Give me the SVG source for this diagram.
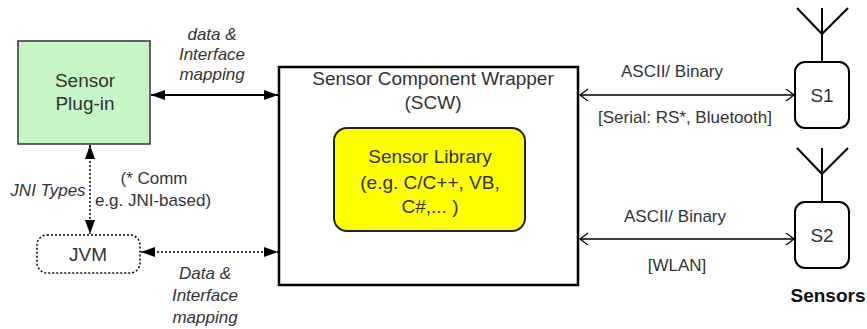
<svg xmlns="http://www.w3.org/2000/svg" width="867" height="329" viewBox="0 0 867 329">
<style>
text{font-family:"Liberation Sans",Arial,sans-serif;fill:#333;text-anchor:middle}
.t19{font-size:19px}
.t17{font-size:17px}
.it{font-style:italic}
.b{font-weight:bold;fill:#111}
.solid{stroke:#000;stroke-width:2;fill:none}
.dot{stroke:#000;stroke-width:1.5;stroke-dasharray:2 2;fill:none}
.thin{stroke:#000;stroke-width:1.3;fill:none}
</style>
<defs>
<marker id="fa" markerUnits="userSpaceOnUse" markerWidth="16" markerHeight="12" refX="14" refY="5" orient="auto-start-reverse" viewBox="0 0 16 12">
<path d="M0,0 L14,5 L0,10 z" fill="#000"/>
</marker>
<marker id="oa" markerUnits="userSpaceOnUse" markerWidth="12" markerHeight="14" refX="9" refY="6" orient="auto-start-reverse" viewBox="0 0 12 14">
<path d="M1,0 L9,6 L1,12" fill="none" stroke="#000" stroke-width="1.3"/>
</marker>
</defs>
<g id="connectors">
<line class="solid" x1="151" y1="95" x2="278" y2="95" marker-start="url(#fa)" marker-end="url(#fa)"/>
<line class="dot" x1="90" y1="145" x2="90" y2="234" marker-start="url(#fa)" marker-end="url(#fa)"/>
<line class="dot" x1="141" y1="252" x2="278" y2="252" marker-start="url(#fa)" marker-end="url(#fa)"/>
<line class="thin" x1="580" y1="95" x2="794" y2="95" marker-start="url(#oa)" marker-end="url(#oa)"/>
<line class="thin" x1="580" y1="239" x2="794" y2="239" marker-start="url(#oa)" marker-end="url(#oa)"/>
<text class="t17 it" x="212" y="40">data &amp;</text>
<text class="t17 it" x="212" y="60">Interface</text>
<text class="t17 it" x="212" y="80">mapping</text>
<text class="t17 it" x="48" y="196">JNI Types</text>
<text class="t17" x="154" y="184">(* Comm</text>
<text class="t17" x="153" y="206">e.g. JNI-based)</text>
<text class="t17 it" x="205" y="279">Data &amp;</text>
<text class="t17 it" x="205" y="301">Interface</text>
<text class="t17 it" x="205" y="323">mapping</text>
<text class="t17" x="672" y="77">ASCII/ Binary</text>
<text class="t17" x="685" y="123">[Serial: RS*, Bluetooth]</text>
<text class="t17" x="675" y="222">ASCII/ Binary</text>
<text class="t17" x="677" y="271">[WLAN]</text>
</g>
<g id="plugin">
<rect x="18" y="41" width="132" height="103" fill="#c6f5c6" stroke="#333" stroke-width="1.5"/>
<text class="t19" x="85" y="87">Sensor</text>
<text class="t19" x="85" y="110">Plug-in</text>
</g>
<g id="jvm">
<rect class="dot" x="37" y="235" width="103" height="38" rx="10"/>
<text class="t19" x="88" y="261">JVM</text>
</g>
<g id="scw">
<rect x="279" y="67" width="299" height="218" fill="#fff" stroke="#000" stroke-width="2.5"/>
<text class="t19" x="433" y="85">Sensor Component Wrapper</text>
<text class="t19" x="433" y="109">(SCW)</text>
</g>
<g id="library">
<rect x="334" y="128" width="191" height="103" rx="13" fill="#ffff00" stroke="#222" stroke-width="2"/>
<text class="t19" x="430" y="163">Sensor Library</text>
<text class="t19" x="430" y="189">(e.g. C/C++, VB,</text>
<text class="t19" x="430" y="213">C#,... )</text>
</g>
<g id="s1">
<path class="solid" d="M822,62 V8 M797,8 L822,34 L848,8"/>
<rect x="795" y="62" width="54" height="66" rx="10" fill="#fff" stroke="#000" stroke-width="2"/>
<text class="t19" x="822" y="102">S1</text>
</g>
<g id="s2">
<path class="solid" d="M822,202 V148 M797,148 L822,174 L848,148"/>
<rect x="795" y="202" width="54" height="66" rx="10" fill="#fff" stroke="#000" stroke-width="2"/>
<text class="t19" x="822" y="242">S2</text>
</g>
<text class="t19 b" x="828" y="302">Sensors</text>
</svg>
